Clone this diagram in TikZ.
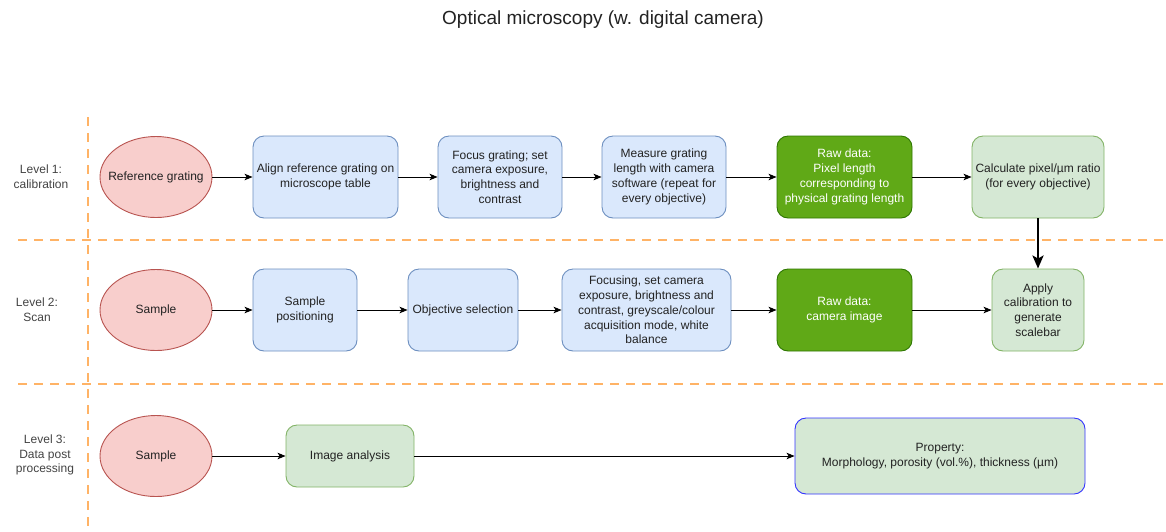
\documentclass[tikz,border=0pt]{standalone}
\usepackage{fontspec}
\setmainfont{Liberation Sans}
\usetikzlibrary{arrows.meta,shapes.geometric}
\definecolor{bluefill}{HTML}{DAE8FC}
\definecolor{bluedraw}{HTML}{6C8EBF}
\definecolor{redfill}{HTML}{F8CECC}
\definecolor{reddraw}{HTML}{B85450}
\definecolor{lgfill}{HTML}{D5E8D4}
\definecolor{lgdraw}{HTML}{82B366}
\definecolor{dgfill}{HTML}{60A917}
\definecolor{dgdraw}{HTML}{2D7600}
\definecolor{orangeline}{HTML}{FFB366}
\definecolor{propdraw}{HTML}{3333FF}
\definecolor{txt}{HTML}{222222}
\tikzset{
  base/.style={font=\fontsize{12}{14.8}\selectfont, text=txt, align=center, inner sep=0pt, line width=0.9pt},
  oval/.style={base, ellipse, draw=reddraw, fill=redfill, minimum width=112pt, minimum height=81pt,
     label={[base]center:#1}},
  bluebox/.style={base, rectangle, rounded corners=11pt, draw=bluedraw, fill=bluefill, minimum height=82pt},
  lgbox/.style={base, rectangle, rounded corners=11pt, draw=lgdraw, fill=lgfill, minimum height=82pt},
  dgbox/.style={base, rectangle, rounded corners=11pt, draw=dgdraw, fill=dgfill, text=white, minimum height=82pt},
  lvl/.style={base, text=txt!85},
  sep/.style={draw=orangeline, line width=2.2pt, dash pattern=on 9pt off 7pt},
  arr/.style={-{Stealth[length=8pt,width=6.5pt,inset=2pt]}, line width=0.9pt, black},
  bigarr/.style={-{Stealth[length=13pt,width=11pt,inset=3pt]}, line width=2.6pt, black},
}
\begin{document}
\begin{tikzpicture}[x=1pt,y=-1pt]
\useasboundingbox (0,0) rectangle (1166,531);

\node[base, font=\fontsize{19}{22}\selectfont] (title) at (603,20) {Optical microscopy (w. digital camera)};

% separators
\coordinate (v1) at (88,117);
\coordinate (v2) at (88,531);
\coordinate (h1a) at (18,240);
\coordinate (h1b) at (1166,240);
\coordinate (h2a) at (18,384);
\coordinate (h2b) at (1166,384);
\draw[sep] (v1) -- (v2);
\draw[sep] (h1a) -- (h1b);
\draw[sep] (h2a) -- (h2b);

% level labels
\node[lvl] (l1) at (41,177) {Level 1:\\calibration};
\node[lvl] (l2) at (37,310) {Level 2:\\Scan};
\node[lvl] (l3) at (45,455) {Level 3:\\Data post\\processing};

% row 1
\node[oval={Reference grating}] (ref) at (156,177) {};
\node[bluebox, minimum width=145pt] (align) at (325.5,177) {Align reference grating on\\microscope table};
\node[bluebox, minimum width=124pt] (focus) at (500,177) {Focus grating; set\\camera exposure,\\brightness and\\contrast};
\node[bluebox, minimum width=124pt] (meas) at (664,177) {Measure grating\\length with camera\\software (repeat for\\every objective)};
\node[dgbox, minimum width=135pt] (raw1) at (844.5,177) {Raw data:\\Pixel length\\corresponding to\\physical grating length};
\node[lgbox, minimum width=132pt, text height=24pt] (calc) at (1038,177) {Calculate pixel/µm ratio\\(for every objective)};

% row 2
\node[oval={Sample}] (samp2) at (156,310) {};
\node[bluebox, minimum width=104pt] (pos) at (305,310) {Sample\\positioning};
\node[bluebox, minimum width=110pt] (obj) at (463,310) {Objective selection};
\node[bluebox, minimum width=169pt] (foc2) at (646.5,310) {Focusing, set camera\\exposure, brightness and\\contrast, greyscale/colour\\acquisition mode, white\\balance};
\node[dgbox, minimum width=135pt] (raw2) at (844.5,310) {Raw data:\\camera image};
\node[lgbox, minimum width=92pt] (apply) at (1038,310) {Apply\\calibration to\\generate\\scalebar};

% row 3
\node[oval={Sample}] (samp3) at (156,456) {};
\node[lgbox, minimum width=128pt, minimum height=62pt] (ana) at (350,456) {Image analysis};
\node[lgbox, draw=propdraw, minimum width=290pt, minimum height=76pt] (prop) at (940,456) {Property:\\Morphology, porosity (vol.\%), thickness (µm)};

% arrows
\draw[arr] (ref) -- (align);
\draw[arr] (align) -- (focus);
\draw[arr] (focus) -- (meas);
\draw[arr] (meas) -- (raw1);
\draw[arr] (raw1) -- (calc);
\draw[bigarr] (calc) -- (apply);
\draw[arr] (samp2) -- (pos);
\draw[arr] (pos) -- (obj);
\draw[arr] (obj) -- (foc2);
\draw[arr] (foc2) -- (raw2);
\draw[arr] (raw2) -- (apply);
\draw[arr] (samp3) -- (ana);
\draw[arr] (ana) -- (prop);
\end{tikzpicture}
\end{document}
